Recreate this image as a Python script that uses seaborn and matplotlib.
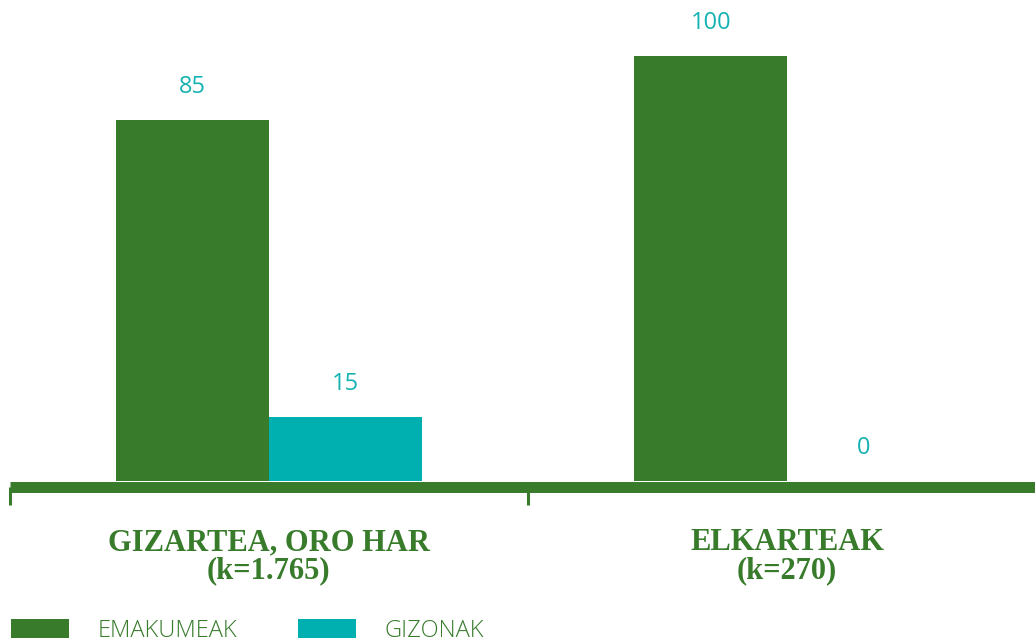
import matplotlib
matplotlib.use("Agg")
import matplotlib.pyplot as plt
import seaborn as sns
import pandas as pd
from matplotlib.patches import Patch

categories = ["GIZARTEA, ORO HAR\n(k=1.765)", "ELKARTEAK\n(k=270)"]
series_names = ["EMAKUMEAK", "GIZONAK"]
emakumeak = [85, 100]
gizonak = [15, 0]

GREEN = "#377B2B"
TEAL = "#00B0B0"
LABEL_TEAL = "#14B2B2"

df = pd.DataFrame({
    "cat": categories * 2,
    "serie": [series_names[0]] * 2 + [series_names[1]] * 2,
    "val": emakumeak + gizonak,
})

sns.set_style("white")
fig = plt.figure(figsize=(10.35, 6.41), dpi=100)
W, H = 1035, 641
ax = fig.add_axes([9.5 / W, (H - 481) / H, 1037 / W, 481 / H])

sns.barplot(data=df, x="cat", y="val", hue="serie", order=categories,
            hue_order=series_names, palette=[GREEN, TEAL], saturation=1,
            width=0.59, ax=ax, legend=False, linewidth=0, edgecolor="none")

ax.set_xlim(-0.5, 1.5)
ax.set_ylim(0, 481 / 4.25)
for c in ax.containers:
    ax.bar_label(c, labels=[f"{v:g}" for v in c.datavalues], padding=15,
                 color=LABEL_TEAL, fontsize=17, family="Open Sans",
                 fontweight="medium")

for s in ["left", "top", "right"]:
    ax.spines[s].set_visible(False)
ax.spines["bottom"].set_color(GREEN)
ax.spines["bottom"].set_linewidth(7.9)
ax.spines["bottom"].set_position(("outward", 4))
ax.spines["bottom"].set_capstyle("butt")
ax.set_yticks([])
ax.set_xlabel("")
ax.set_ylabel("")
ax.set_xticks([0, 1])
ax.set_xticklabels(categories, family="Liberation Serif", fontweight="bold",
                   fontsize=22, color=GREEN, linespacing=0.95)
ax.set_xticks([-0.5, 0.5, 1.5], minor=True)
ax.tick_params(axis="x", which="major", length=0, pad=30, bottom=True)
ax.tick_params(axis="x", which="minor", length=12.6, width=2.2, color=GREEN,
               direction="out", bottom=True)

handles = [Patch(facecolor=GREEN, edgecolor="none"), Patch(facecolor=TEAL, edgecolor="none")]
leg = fig.legend(handles, series_names, loc="upper left",
                 bbox_to_anchor=(11 / W, 1 - 619 / H), ncol=2, frameon=False,
                 borderpad=0, borderaxespad=0, handlelength=2.45, handleheight=0.85,
                 handletextpad=1.2, columnspacing=2.6,
                 prop={"family": "Open Sans", "weight": "light", "size": 17})
for t in leg.get_texts():
    t.set_color(GREEN)

fig.savefig("out.png", dpi=100)
